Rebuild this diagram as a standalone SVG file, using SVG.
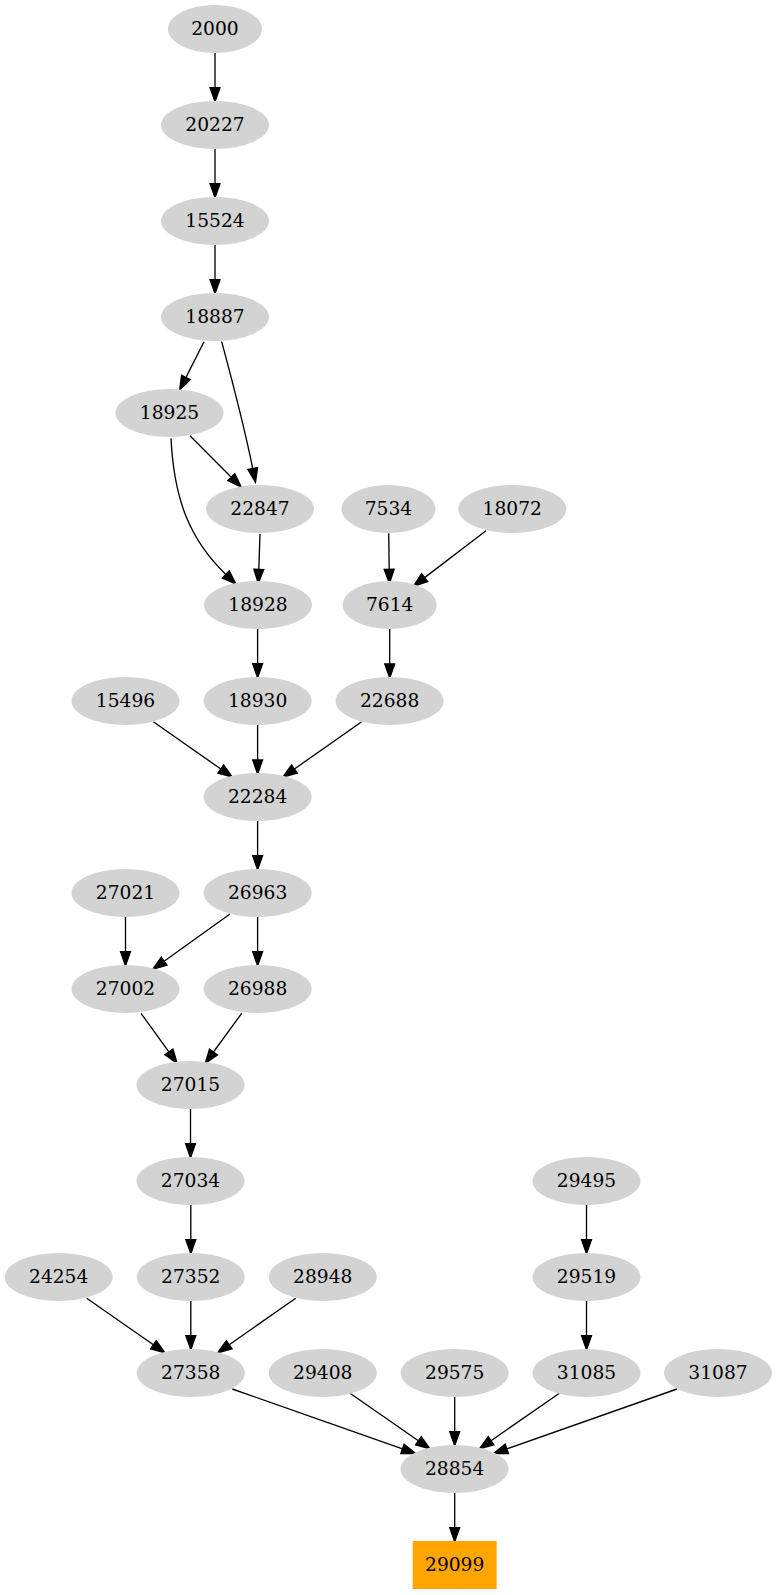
<svg xmlns="http://www.w3.org/2000/svg" width="778" height="1595" viewBox="0 0 778 1595">
<style>
.n ellipse{fill:#d3d3d3;stroke:none}
.n rect{fill:#ffa500;stroke:none}
.n text{font-family:"DejaVu Serif","Liberation Serif",serif;font-size:18.67px;text-anchor:middle;fill:#000}
#edges path{fill:none;stroke:#000;stroke-width:1.33;marker-end:url(#ah)}
</style>
<defs>
<marker id="ah" markerUnits="userSpaceOnUse" markerWidth="14" markerHeight="10" refX="0" refY="4.67" orient="auto" viewBox="0 0 13.33 9.33" overflow="visible">
<path d="M0,0 L13.33,4.67 L0,9.33 z" fill="#000" stroke="#000" stroke-width="1.33"/>
</marker>
</defs>
<rect width="778" height="1595" fill="#fff"/>
<g id="edges">
<path d="M215,53 L215,87.7"/>
<path d="M215,149 L215,183.7"/>
<path d="M215,245 L215,279.7"/>
<path d="M204,341.7 L186,377.4"/>
<path d="M221.7,341.7 C232,380 247,440 252.7,468.5"/>
<path d="M190,435.7 L231.3,477.2"/>
<path d="M171,438.3 C174,500 190,540 225.8,574.4"/>
<path d="M260,534 L258.8,569.4"/>
<path d="M388.7,533.3 L389.2,569.4"/>
<path d="M486,530.7 L424.6,577.6"/>
<path d="M389.7,629 L389.7,664"/>
<path d="M257.6,629 L257.6,663.7"/>
<path d="M153.3,721.7 L220.8,769"/>
<path d="M257.6,725 L257.6,760"/>
<path d="M361.7,721.7 L294.4,769"/>
<path d="M257.6,821 L257.6,855.7"/>
<path d="M125.5,917 L125.5,951.7"/>
<path d="M230,914 L164.1,961.2"/>
<path d="M257.6,917 L257.6,951.7"/>
<path d="M141,1013.3 L168.9,1051.9"/>
<path d="M241.7,1013.3 L213.5,1052"/>
<path d="M190.5,1109 L190.5,1143.7"/>
<path d="M190.8,1205 L190.8,1239.7"/>
<path d="M86.7,1298.3 L153.4,1344.7"/>
<path d="M190.8,1301 L190.8,1335.7"/>
<path d="M295.7,1298.3 L229.2,1344.7"/>
<path d="M586.5,1205 L586.5,1239.7"/>
<path d="M586.5,1301 L586.5,1335.7"/>
<path d="M232.3,1389 L402.5,1448.9"/>
<path d="M350,1393.3 L418.4,1440.7"/>
<path d="M454.7,1397 L454.7,1431.7"/>
<path d="M559.4,1393.3 L491,1440.7"/>
<path d="M677,1389 L506.8,1448.9"/>
<path d="M454.7,1493 L454.7,1527.7"/>
</g>
<g id="n2000" class="n"><ellipse cx="215" cy="29" rx="47" ry="24"/><text x="215" y="34.6">2000</text></g>
<g id="n20227" class="n"><ellipse cx="215" cy="125" rx="54" ry="24"/><text x="215" y="130.6">20227</text></g>
<g id="n15524" class="n"><ellipse cx="215" cy="221" rx="54" ry="24"/><text x="215" y="226.6">15524</text></g>
<g id="n18887" class="n"><ellipse cx="215" cy="317" rx="54" ry="24"/><text x="215" y="322.6">18887</text></g>
<g id="n18925" class="n"><ellipse cx="169.5" cy="413" rx="54" ry="24"/><text x="169.5" y="418.6">18925</text></g>
<g id="n22847" class="n"><ellipse cx="260" cy="509" rx="54" ry="24"/><text x="260" y="514.6">22847</text></g>
<g id="n7534" class="n"><ellipse cx="388.5" cy="509" rx="47" ry="24"/><text x="388.5" y="514.6">7534</text></g>
<g id="n18072" class="n"><ellipse cx="512.3" cy="509" rx="54" ry="24"/><text x="512.3" y="514.6">18072</text></g>
<g id="n18928" class="n"><ellipse cx="258" cy="605" rx="54" ry="24"/><text x="258" y="610.6">18928</text></g>
<g id="n7614" class="n"><ellipse cx="389.7" cy="605" rx="47" ry="24"/><text x="389.7" y="610.6">7614</text></g>
<g id="n15496" class="n"><ellipse cx="125.5" cy="701" rx="54" ry="24"/><text x="125.5" y="706.6">15496</text></g>
<g id="n18930" class="n"><ellipse cx="257.6" cy="701" rx="54" ry="24"/><text x="257.6" y="706.6">18930</text></g>
<g id="n22688" class="n"><ellipse cx="389.6" cy="701" rx="54" ry="24"/><text x="389.6" y="706.6">22688</text></g>
<g id="n22284" class="n"><ellipse cx="257.6" cy="797" rx="54" ry="24"/><text x="257.6" y="802.6">22284</text></g>
<g id="n27021" class="n"><ellipse cx="125.5" cy="893" rx="54" ry="24"/><text x="125.5" y="898.6">27021</text></g>
<g id="n26963" class="n"><ellipse cx="257.6" cy="893" rx="54" ry="24"/><text x="257.6" y="898.6">26963</text></g>
<g id="n27002" class="n"><ellipse cx="125.5" cy="989" rx="54" ry="24"/><text x="125.5" y="994.6">27002</text></g>
<g id="n26988" class="n"><ellipse cx="257.6" cy="989" rx="54" ry="24"/><text x="257.6" y="994.6">26988</text></g>
<g id="n27015" class="n"><ellipse cx="190.5" cy="1085" rx="54" ry="24"/><text x="190.5" y="1090.6">27015</text></g>
<g id="n27034" class="n"><ellipse cx="190.5" cy="1181" rx="54" ry="24"/><text x="190.5" y="1186.6">27034</text></g>
<g id="n29495" class="n"><ellipse cx="586.5" cy="1181" rx="54" ry="24"/><text x="586.5" y="1186.6">29495</text></g>
<g id="n24254" class="n"><ellipse cx="58.7" cy="1277" rx="54" ry="24"/><text x="58.7" y="1282.6">24254</text></g>
<g id="n27352" class="n"><ellipse cx="190.8" cy="1277" rx="54" ry="24"/><text x="190.8" y="1282.6">27352</text></g>
<g id="n28948" class="n"><ellipse cx="322.8" cy="1277" rx="54" ry="24"/><text x="322.8" y="1282.6">28948</text></g>
<g id="n29519" class="n"><ellipse cx="586.5" cy="1277" rx="54" ry="24"/><text x="586.5" y="1282.6">29519</text></g>
<g id="n27358" class="n"><ellipse cx="190.8" cy="1373" rx="54" ry="24"/><text x="190.8" y="1378.6">27358</text></g>
<g id="n29408" class="n"><ellipse cx="322.8" cy="1373" rx="54" ry="24"/><text x="322.8" y="1378.6">29408</text></g>
<g id="n29575" class="n"><ellipse cx="454.7" cy="1373" rx="54" ry="24"/><text x="454.7" y="1378.6">29575</text></g>
<g id="n31085" class="n"><ellipse cx="586.5" cy="1373" rx="54" ry="24"/><text x="586.5" y="1378.6">31085</text></g>
<g id="n31087" class="n"><ellipse cx="718" cy="1373" rx="54" ry="24"/><text x="718" y="1378.6">31087</text></g>
<g id="n28854" class="n"><ellipse cx="454.6" cy="1469" rx="54" ry="24"/><text x="454.6" y="1474.6">28854</text></g>
<g id="n29099" class="n"><rect x="412.7" y="1541" width="84" height="48"/><text x="454.7" y="1570.6">29099</text></g>
</svg>
